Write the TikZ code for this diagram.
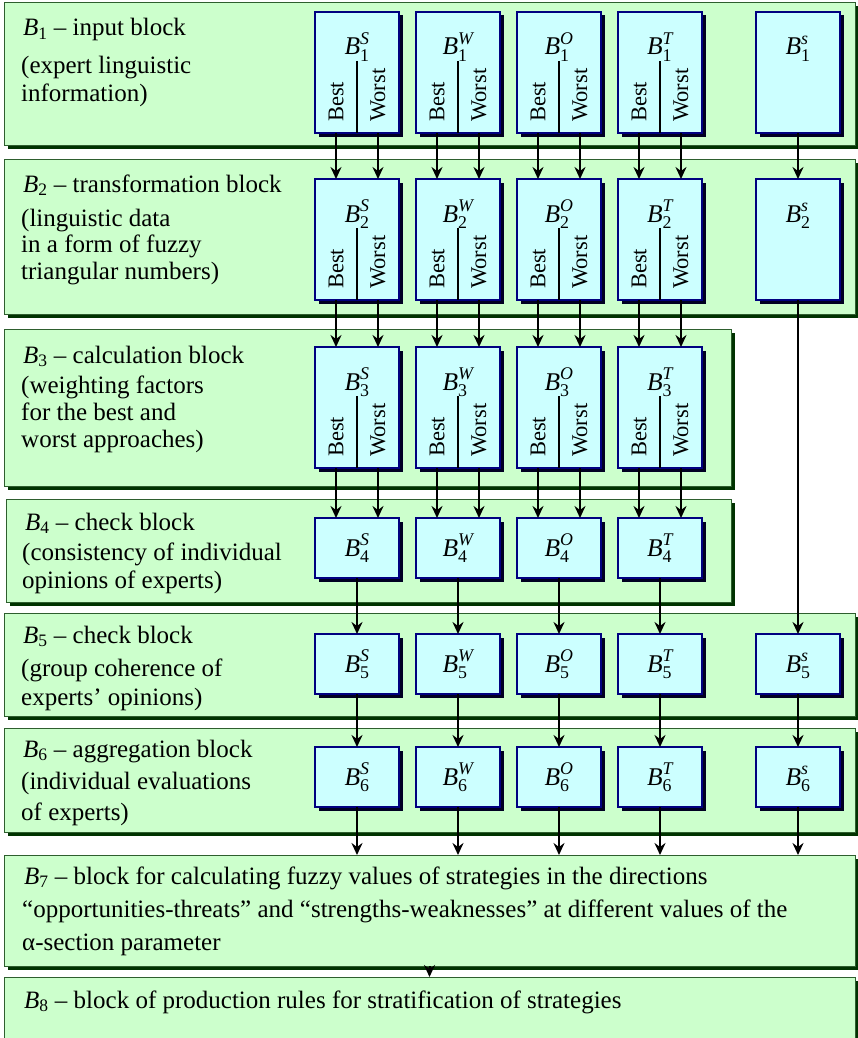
\documentclass[tikz,border=0pt]{standalone}
\usepackage{fontspec}
\usepackage{amsmath}
\setmainfont{Liberation Serif}
\usetikzlibrary{arrows.meta,shadows,calc}
\definecolor{gfill}{HTML}{CCFFCC}
\definecolor{gborder}{HTML}{2E5E2E}
\definecolor{gshadow}{HTML}{003300}
\definecolor{bfill}{HTML}{CCFFFF}
\definecolor{bborder}{HTML}{000080}
\definecolor{bshadow}{HTML}{000022}
\newcommand\Blab[2]{$\textit{B}^{\textit{#2}}_{\textup{#1}}$}
\newcommand\Btit[1]{$\textit{B}_{\textup{#1}}$}
\begin{document}
\begin{tikzpicture}[x=1pt,y=-1pt,
  gblock/.style={draw=gborder, line width=1pt, fill=gfill, inner sep=0pt, outer sep=0pt, anchor=north west,
    drop shadow={shadow xshift=3.5pt, shadow yshift=-3.5pt, fill=gshadow, opacity=1}},
  bblock/.style={draw=bborder, line width=1.4pt, fill=bfill, inner sep=0pt, outer sep=0pt, anchor=north west,
    minimum width=84pt, drop shadow={shadow xshift=3.5pt, shadow yshift=-3.5pt, fill=bshadow, opacity=1}},
  gtext/.style={anchor=base west, inner sep=0pt, font=\fontsize{25}{30}\selectfont},
  blab/.style={anchor=base, inner sep=0pt, font=\fontsize{25.5}{30}\selectfont},
  bw/.style={rotate=90, anchor=west, inner sep=0pt, font=\fontsize{22.5}{27}\selectfont},
  divider/.style={line width=1.3pt, black},
  arr/.style={line width=2pt, -{Stealth[length=12pt,width=11pt,inset=4pt]}}
]
\useasboundingbox (0,0) rectangle (858,1038);
\clip (0,0) rectangle (858,1038);
% green blocks
\node[gblock, minimum width=851pt, minimum height=142pt] (g1) at (4,3) {};
\node[gblock, minimum width=851pt, minimum height=155pt] (g2) at (4,159) {};
\node[gblock, minimum width=727pt, minimum height=157pt] (g3) at (4,329) {};
\node[gblock, minimum width=725pt, minimum height=103pt] (g4) at (6,499) {};
\node[gblock, minimum width=851pt, minimum height=103pt] (g5) at (4,613) {};
\node[gblock, minimum width=851pt, minimum height=104pt] (g6) at (4,728) {};
\node[gblock, minimum width=851pt, minimum height=111pt] (g7) at (4,855) {};
\node[gblock, minimum width=851pt, minimum height=120pt] (g8) at (4,977) {};
% block texts
\node[gtext] (t1a) at (23,36) {\Btit{1} – input block};
\node[gtext] (t1b) at (21,74) {(expert linguistic};
\node[gtext] (t1c) at (21,102) {information)};
\node[gtext] (t2a) at (23,192) {\Btit{2} – transformation block};
\node[gtext] (t2b) at (21,226) {(linguistic data};
\node[gtext] (t2c) at (21,252) {in a form of fuzzy};
\node[gtext] (t2d) at (21,279) {triangular numbers)};
\node[gtext] (t3a) at (23,363) {\Btit{3} – calculation block};
\node[gtext] (t3b) at (21,393) {(weighting factors};
\node[gtext] (t3c) at (21,420) {for the best and};
\node[gtext] (t3d) at (21,447) {worst approaches)};
\node[gtext] (t4a) at (25,530) {\Btit{4} – check block};
\node[gtext] (t4b) at (22,560) {(consistency of individual};
\node[gtext] (t4c) at (22,588) {opinions of experts)};
\node[gtext] (t5a) at (23,643) {\Btit{5} – check block};
\node[gtext] (t5b) at (21,676) {(group coherence of};
\node[gtext] (t5c) at (21,705) {experts’ opinions)};
\node[gtext] (t6a) at (23,757) {\Btit{6} – aggregation block};
\node[gtext] (t6b) at (21,789) {(individual evaluations};
\node[gtext] (t6c) at (21,820) {of experts)};
\node[gtext] (t7a) at (24,884) {\Btit{7} – block for calculating fuzzy values of strategies in the directions};
\node[gtext] (t7b) at (22,917) {“opportunities-threats” and “strengths-weaknesses” at different values of the};
\node[gtext] (t7c) at (22,950) {α-section parameter};
\node[gtext] (t8a) at (24,1008) {\Btit{8} – block of production rules for stratification of strategies};
% tall blue boxes with Best / Worst
\foreach \r/\y in {1/12,2/179,3/347}{
  \foreach \c/\x in {S/315,W/416,O/517,T/618}{
    \node[bblock, minimum height=121pt] (b\r\c) at (\x,\y) {};
    \node[blab] (lab\r\c) at ($(b\r\c.north)+(0,43)$) {\Blab{\r}{\c}};
    \draw[divider] ($(b\r\c.south)+(0,-72)$) -- (b\r\c.south);
    \node[bw] (best\r\c) at ($(b\r\c.south)+(-21,-11)$) {Best};
    \node[bw] (worst\r\c) at ($(b\r\c.south)+(21,-11)$) {Worst};
  }
}
\foreach \r/\y in {1/12,2/179}{
  \node[bblock, minimum height=121pt] (b\r s) at (756,\y) {};
  \node[blab] (lab\r s) at ($(b\r s.north)+(0,43)$) {\Blab{\r}{s}};
}
% short blue boxes
\foreach \r/\y in {4/518,5/634,6/747}{
  \foreach \c/\x in {S/315,W/416,O/517,T/618}{
    \node[bblock, minimum height=60pt] (b\r\c) at (\x,\y) {};
    \node[blab] (lab\r\c) at ($(b\r\c.center)+(0,8)$) {\Blab{\r}{\c}};
  }
}
\foreach \r/\y in {5/634,6/747}{
  \node[bblock, minimum height=60pt] (b\r s) at (756,\y) {};
  \node[blab] (lab\r s) at ($(b\r s.center)+(0,8)$) {\Blab{\r}{s}};
}
% arrows
\foreach \c in {S,W,O,T}{
  \draw[arr] ($(b1\c.south)+(-21,0)$) -- ($(b2\c.north)+(-21,0)$);
  \draw[arr] ($(b1\c.south)+(21,0)$) -- ($(b2\c.north)+(21,0)$);
  \draw[arr] ($(b2\c.south)+(-21,0)$) -- ($(b3\c.north)+(-21,0)$);
  \draw[arr] ($(b2\c.south)+(21,0)$) -- ($(b3\c.north)+(21,0)$);
  \draw[arr] ($(b3\c.south)+(-21,0)$) -- ($(b4\c.north)+(-21,0)$);
  \draw[arr] ($(b3\c.south)+(21,0)$) -- ($(b4\c.north)+(21,0)$);
  \draw[arr] (b4\c.south) -- (b5\c.north);
}
\draw[arr] (b1s.south) -- (b2s.north);
\draw[arr] (b2s.south) -- (b5s.north);
\foreach \c in {S,W,O,T,s}{
  \draw[arr] (b5\c.south) -- (b6\c.north);
  \draw[arr] (b6\c.south) -- (b6\c.south |- g7.north);
}
\draw[arr] (g7.south) -- (g8.north);
\end{tikzpicture}
\end{document}
